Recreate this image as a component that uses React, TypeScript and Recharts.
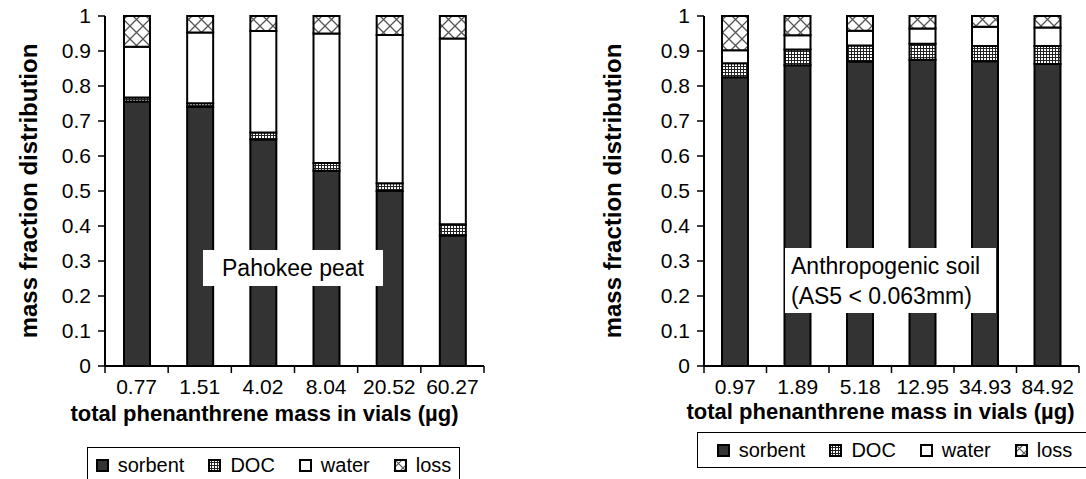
import React from "react";
import { BarChart, Bar, XAxis, YAxis, Label } from "recharts";

// left panel: Pahokee peat
const peatMass = ["0.77", "1.51", "4.02", "8.04", "20.52", "60.27"];
const peatSorbent = [0.756, 0.74, 0.647, 0.558, 0.5, 0.373];
const peatDoc = [0.011, 0.011, 0.02, 0.022, 0.022, 0.032];
const peatWater = [0.145, 0.202, 0.29, 0.37, 0.424, 0.531];
const peatLoss = [0.088, 0.047, 0.043, 0.05, 0.054, 0.064];

// right panel: anthropogenic soil AS5
const soilMass = ["0.97", "1.89", "5.18", "12.95", "34.93", "84.92"];
const soilSorbent = [0.825, 0.859, 0.87, 0.875, 0.871, 0.863];
const soilDoc = [0.04, 0.045, 0.046, 0.046, 0.043, 0.051];
const soilWater = [0.037, 0.041, 0.042, 0.043, 0.055, 0.053];
const soilLoss = [0.098, 0.055, 0.042, 0.036, 0.031, 0.033];

const fractionTicks = [0, 0.1, 0.2, 0.3, 0.4, 0.5, 0.6, 0.7, 0.8, 0.9, 1];
const seriesNames = ["sorbent", "DOC", "water", "loss"];

const FONT = '"Liberation Sans", Arial, sans-serif';
const TICK_SIZE = 21;
const X_TITLE_SIZE = 22;
const Y_TITLE_SIZE = 24;

type Row = { mass: string; sorbent: number; DOC: number; water: number; loss: number };

function buildRows(mass: string[], sorbent: number[], doc: number[], water: number[], loss: number[]): Row[] {
  return mass.map((m, i) => ({ mass: m, sorbent: sorbent[i], DOC: doc[i], water: water[i], loss: loss[i] }));
}

function Patterns({ id }: { id: string }) {
  return (
    <defs>
      <pattern id={`${id}-doc`} width={3} height={3} patternUnits="userSpaceOnUse">
        <rect width={3} height={3} fill="#fff" />
        <rect width={3} height={1} fill="#222" />
        <rect width={1} height={3} fill="#222" />
      </pattern>
      <pattern id={`${id}-loss`} width={13} height={13} patternUnits="userSpaceOnUse">
        <rect width={13} height={13} fill="#fff" />
        <path d="M0 0L13 13M13 0L0 13" stroke="#555" strokeWidth={1.3} />
      </pattern>
    </defs>
  );
}

function fillFor(id: string, name: string) {
  if (name === "sorbent") return "#333333";
  if (name === "DOC") return `url(#${id}-doc)`;
  if (name === "water") return "#ffffff";
  return `url(#${id}-loss)`;
}

function MassTick(props: any) {
  const { x, y, payload, index, half, count } = props;
  const axisY = y - 12;
  return (
    <g>
      <line x1={x - half} x2={x - half} y1={axisY} y2={axisY + 7} stroke="#000" strokeWidth={1.5} />
      {index === count - 1 && (
        <line x1={x + half} x2={x + half} y1={axisY} y2={axisY + 7} stroke="#000" strokeWidth={1.5} />
      )}
      <text x={x} y={y} dy="0.76em" textAnchor="middle" fontSize={TICK_SIZE} fontFamily={FONT} fill="#000">
        {payload.value}
      </text>
    </g>
  );
}

type ChartProps = {
  id: string;
  rows: Row[];
  left: number;
  width: number;
  yAxisW: number;
  marginRight: number;
  yTitleX: number;
  xTitleShift: number;
  xTitleY: number;
};

function FractionChart({ id, rows, left, width, yAxisW, marginRight, yTitleX, xTitleShift, xTitleY }: ChartProps) {
  const plotW = width - yAxisW - marginRight;
  const half = plotW / rows.length / 2;
  const axisStyle = { stroke: "#000", strokeWidth: 2 };
  return (
    <div style={{ position: "absolute", left, top: 0 }}>
      <BarChart
        width={width}
        height={479}
        data={rows}
        margin={{ top: 16, right: marginRight, left: 0, bottom: 53 }}
        style={{ fontFamily: FONT }}
      >
        <Patterns id={id} />
        <XAxis
          dataKey="mass"
          height={60}
          axisLine={axisStyle}
          tickLine={false}
          tickSize={7}
          tickMargin={5}
          interval={0}
          tick={(p: any) => <MassTick {...p} half={half} count={rows.length} />}
        >
          <Label
            content={(p: any) => {
              const vb = p.viewBox;
              return (
                <text
                  x={vb.x + vb.width / 2 + xTitleShift}
                  y={vb.y + xTitleY}
                  textAnchor="middle"
                  fontSize={X_TITLE_SIZE}
                  fontWeight="bold"
                  fontFamily={FONT}
                  fill="#000"
                >
                  total phenanthrene mass in vials (µg)
                </text>
              );
            }}
          />
        </XAxis>
        <XAxis xAxisId="top" orientation="top" dataKey="mass" height={0} tick={false} tickLine={false} axisLine={axisStyle} />
        <YAxis
          width={yAxisW}
          domain={[0, 1]}
          ticks={fractionTicks}
          interval={0}
          axisLine={axisStyle}
          tickLine={{ stroke: "#000", strokeWidth: 1.5 }}
          tickSize={7}
          tickMargin={7}
          tick={{ fill: "#000", fontSize: TICK_SIZE, fontFamily: FONT }}
        >
          <Label
            content={(p: any) => {
              const vb = p.viewBox;
              const cy = vb.y + vb.height / 2;
              return (
                <text
                  x={yTitleX}
                  y={cy}
                  transform={`rotate(-90 ${yTitleX} ${cy})`}
                  textAnchor="middle"
                  dominantBaseline="central"
                  fontSize={Y_TITLE_SIZE}
                  fontWeight="bold"
                  fontFamily={FONT}
                  fill="#000"
                >
                  mass fraction distribution
                </text>
              );
            }}
          />
        </YAxis>
        <YAxis yAxisId="right" orientation="right" width={0} domain={[0, 1]} tick={false} tickLine={false} axisLine={axisStyle} />
        {seriesNames.map((name) => (
          <Bar
            key={name}
            dataKey={name}
            stackId="mass"
            barSize={26}
            fill={fillFor(id, name)}
            stroke="#000"
            strokeWidth={2}
            isAnimationActive={false}
          />
        ))}
      </BarChart>
    </div>
  );
}

function LegendIcon({ name }: { name: string }) {
  const pid = `leg-${name}`;
  return (
    <svg width={13} height={13} style={{ display: "block" }}>
      <defs>
        <pattern id={`${pid}-doc`} width={3} height={3} patternUnits="userSpaceOnUse">
          <rect width={3} height={3} fill="#fff" />
          <rect width={3} height={1} fill="#222" />
          <rect width={1} height={3} fill="#222" />
        </pattern>
        <pattern id={`${pid}-loss`} width={9} height={9} patternUnits="userSpaceOnUse">
          <rect width={9} height={9} fill="#fff" />
          <path d="M0 0L9 9M9 0L0 9" stroke="#555" strokeWidth={1.2} />
        </pattern>
      </defs>
      <rect x={1} y={1} width={11} height={11} fill={fillFor(pid, name)} stroke="#000" strokeWidth={2} />
    </svg>
  );
}

function SeriesLegend({ left, top, width, height }: { left: number; top: number; width: number; height: number }) {
  return (
    <div
      style={{
        position: "absolute",
        left,
        top,
        width,
        height,
        border: "1px solid #000",
        background: "#fff",
        display: "flex",
        alignItems: "center",
        justifyContent: "center",
        gap: 24,
        fontFamily: FONT,
        fontSize: 20,
        color: "#000",
        boxSizing: "border-box",
      }}
    >
      {seriesNames.map((name) => (
        <div key={name} style={{ display: "flex", alignItems: "center", gap: 9 }}>
          <LegendIcon name={name} />
          <span>{name}</span>
        </div>
      ))}
    </div>
  );
}

function Note({ left, top, width, height, lines }: { left: number; top: number; width: number; height: number; lines: string[] }) {
  return (
    <div
      style={{
        position: "absolute",
        left,
        top,
        width,
        height,
        background: "#fff",
        fontFamily: FONT,
        fontSize: 23,
        lineHeight: "30px",
        color: "#000",
        display: "flex",
        flexDirection: "column",
        justifyContent: "center",
        alignItems: lines.length > 1 ? "flex-start" : "center",
        paddingLeft: lines.length > 1 ? 6 : 0,
        boxSizing: "border-box",
        whiteSpace: "nowrap",
      }}
    >
      {lines.map((l) => (
        <div key={l}>{l}</div>
      ))}
    </div>
  );
}

export default function App() {
  const peatRows = buildRows(peatMass, peatSorbent, peatDoc, peatWater, peatLoss);
  const soilRows = buildRows(soilMass, soilSorbent, soilDoc, soilWater, soilLoss);
  return (
    <div style={{ position: "absolute", left: 0, top: 0, width: 1086, height: 479, background: "#fff", overflow: "hidden" }}>
      <FractionChart
        id="peat"
        rows={peatRows}
        left={0}
        width={500}
        yAxisW={105}
        marginRight={16}
        yTitleX={28}
        xTitleShift={-30}
        xTitleY={55}
      />
      <FractionChart
        id="soil"
        rows={soilRows}
        left={560}
        width={526}
        yAxisW={144}
        marginRight={7}
        yTitleX={52}
        xTitleShift={-11}
        xTitleY={53}
      />
      <Note left={203} top={250} width={180} height={36} lines={["Pahokee peat"]} />
      <Note left={785} top={248} width={211} height={65} lines={["Anthropogenic soil", "(AS5 < 0.063mm)"]} />
      <SeriesLegend left={87} top={447} width={373} height={36} />
      <SeriesLegend left={697} top={432} width={395} height={36} />
    </div>
  );
}
